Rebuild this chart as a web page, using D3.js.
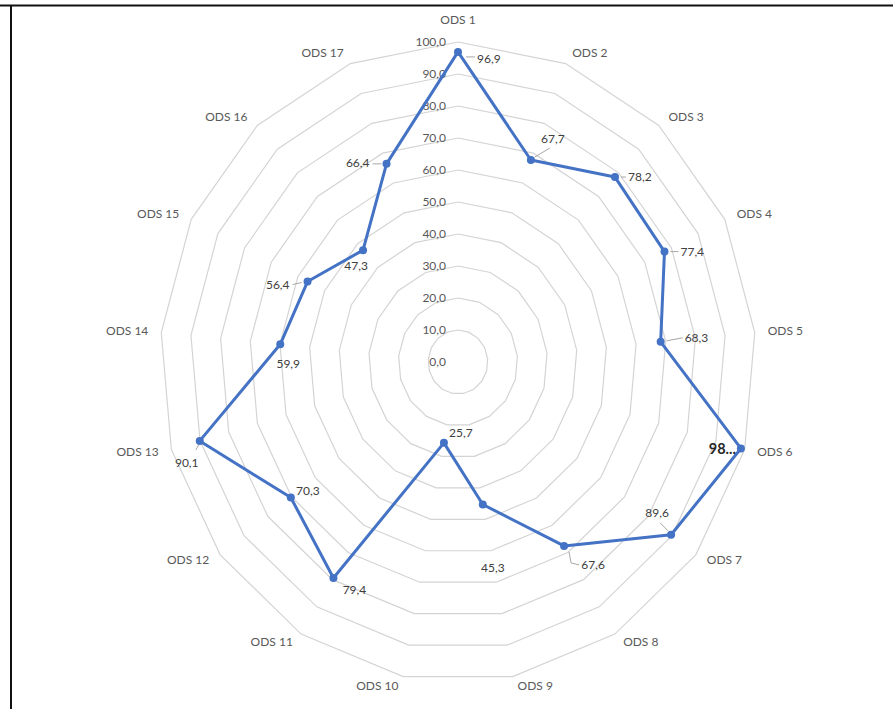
<!DOCTYPE html>
<html>
<head>
<meta charset="utf-8">
<script src="https://cdn.jsdelivr.net/npm/d3@7"></script>
<style>
  html, body { margin: 0; padding: 0; background: #ffffff; }
  svg { display: block; font-family: Lato, "Open Sans", sans-serif; }
</style>
</head>
<body>
<svg id="chart" width="893" height="709"></svg>
<script>
// Goals (ODS 1..17) and their scores
const categories = ["ODS 1", "ODS 2", "ODS 3", "ODS 4", "ODS 5", "ODS 6", "ODS 7", "ODS 8", "ODS 9",
                    "ODS 10", "ODS 11", "ODS 12", "ODS 13", "ODS 14", "ODS 15", "ODS 16", "ODS 17"];
const values = [96.9, 67.7, 78.2, 77.4, 68.3, 98.7, 89.6, 67.6, 45.3, 25.7, 79.4, 70.3, 90.1, 59.9, 56.4, 47.3, 66.4];
const ringTicks = [0, 10, 20, 30, 40, 50, 60, 70, 80, 90, 100];
// labels whose text is cut short in the plot
const truncated = ["ODS 6"];

// Placement of each value label relative to its marker (anchor, offset, optional leader line)
const labelLayout = [
  { a: "start",  dx: 19,  dy: 7,   lead: [[8, 5], [17, 5]] },
  { a: "middle", dx: 22,  dy: -21, lead: [[4, -3], [19, -12]] },
  { a: "start",  dx: 13,  dy: 0,   lead: [[6, 0], [11, 0]] },
  { a: "start",  dx: 16,  dy: 0,   lead: [[6, 0], [14, 0]] },
  { a: "start",  dx: 24,  dy: -4,  lead: [[6, -1], [22, -4]] },
  { a: "end",    dx: -5,  dy: 0,   bold: true },
  { a: "middle", dx: -14, dy: -22, lead: [[-3, -4], [-11, -12]] },
  { a: "middle", dx: 29,  dy: 19,  lead: [[5, 6], [7, 17], [15, 19]] },
  { a: "middle", dx: 10,  dy: 63 },
  { a: "middle", dx: 17,  dy: -10 },
  { a: "middle", dx: 21,  dy: 12 },
  { a: "middle", dx: 17,  dy: -7 },
  { a: "middle", dx: -13, dy: 22,  lead: [[-1, 4], [-4, 9]] },
  { a: "middle", dx: 8,   dy: 19 },
  { a: "end",    dx: -18, dy: 3,   lead: [[-6, 1], [-15, 3]] },
  { a: "middle", dx: -7,  dy: 16 },
  { a: "end",    dx: -17, dy: -1,  lead: [[-5, 0], [-14, 0]] }
];

const svg = d3.select("#chart");
const W = 893, H = 709;
const cx = 458, cy = 362;

// frame lines (top and left)
svg.append("line").attr("x1", 0).attr("x2", W).attr("y1", 5.5).attr("y2", 5.5)
  .attr("stroke", "#111").attr("stroke-width", 2);
svg.append("line").attr("x1", 11).attr("x2", 11).attr("y1", 5).attr("y2", H)
  .attr("stroke", "#111").attr("stroke-width", 2);

const n = categories.length;
const angle = d3.scaleLinear().domain([0, n]).range([0, 2 * Math.PI]);
const rx = d3.scaleLinear().domain([0, 100]).range([0, 298]);
const ry = d3.scaleLinear().domain([0, 100]).range([0, 320]);

const px = (i, v) => cx + Math.sin(angle(i)) * rx(v);
const py = (i, v) => cy - Math.cos(angle(i)) * ry(v);

const comma = v => d3.format(".1f")(v).replace(".", ",");

const g = svg.append("g");

// concentric grid polygons
const ringLine = d3.line().curve(d3.curveLinearClosed);
g.append("g").selectAll("path")
  .data(ringTicks.filter(t => t > 0))
  .join("path")
  .attr("d", t => ringLine(categories.map((c, i) => [px(i, t), py(i, t)])))
  .attr("fill", "none")
  .attr("stroke", "#d4d4d4")
  .attr("stroke-width", 1.2);

// radial axis labels along the first spoke
g.append("g").selectAll("text")
  .data(ringTicks)
  .join("text")
  .attr("x", cx - 12)
  .attr("y", t => py(0, t))
  .attr("dy", "0.35em")
  .attr("text-anchor", "end")
  .attr("font-size", 12)
  .attr("fill", "#595959")
  .text(t => comma(t));

// category labels around the outside
const catG = g.append("g");
categories.forEach((c, i) => {
  const s = Math.sin(angle(i)), co = Math.cos(angle(i));
  const vx = px(i, 100) + 10 * s, vy = py(i, 100) - 10 * co;
  const t = catG.append("text")
    .attr("font-size", 12)
    .attr("fill", "#595959")
    .text(c);
  if (Math.abs(s) < 0.05) {
    t.attr("x", vx).attr("y", vy - 12 * co).attr("dy", "0.35em").attr("text-anchor", "middle");
  } else {
    t.attr("x", vx + (s > 0 ? 3 : -3)).attr("y", vy - 1).attr("dy", "0.35em")
      .attr("text-anchor", s > 0 ? "start" : "end");
  }
});

// data series
const pts = values.map((v, i) => [px(i, v), py(i, v)]);
g.append("path")
  .attr("d", d3.line().curve(d3.curveLinearClosed)(pts))
  .attr("fill", "none")
  .attr("stroke", "#4472C4")
  .attr("stroke-width", 3)
  .attr("stroke-linejoin", "round");

g.append("g").selectAll("circle")
  .data(pts)
  .join("circle")
  .attr("cx", d => d[0])
  .attr("cy", d => d[1])
  .attr("r", 4)
  .attr("fill", "#4472C4");

// leader lines
const leadLine = d3.line();
g.append("g").selectAll("path")
  .data(labelLayout.map((l, i) => ({ l, p: pts[i] })).filter(d => d.l.lead))
  .join("path")
  .attr("d", d => leadLine(d.l.lead.map(q => [d.p[0] + q[0], d.p[1] + q[1]])))
  .attr("fill", "none")
  .attr("stroke", "#a6a6a6")
  .attr("stroke-width", 1);

// value labels
g.append("g").selectAll("text")
  .data(values)
  .join("text")
  .attr("x", (v, i) => pts[i][0] + labelLayout[i].dx)
  .attr("y", (v, i) => pts[i][1] + labelLayout[i].dy)
  .attr("dy", "0.35em")
  .attr("text-anchor", (v, i) => labelLayout[i].a)
  .attr("font-size", (v, i) => labelLayout[i].bold ? 14.5 : 12)
  .attr("font-weight", (v, i) => labelLayout[i].bold ? "bold" : "normal")
  .attr("fill", (v, i) => labelLayout[i].bold ? "#262626" : "#404040")
  .text((v, i) => truncated.includes(categories[i]) ? comma(v).slice(0, 2) + "..." : comma(v));
</script>
</body>
</html>
